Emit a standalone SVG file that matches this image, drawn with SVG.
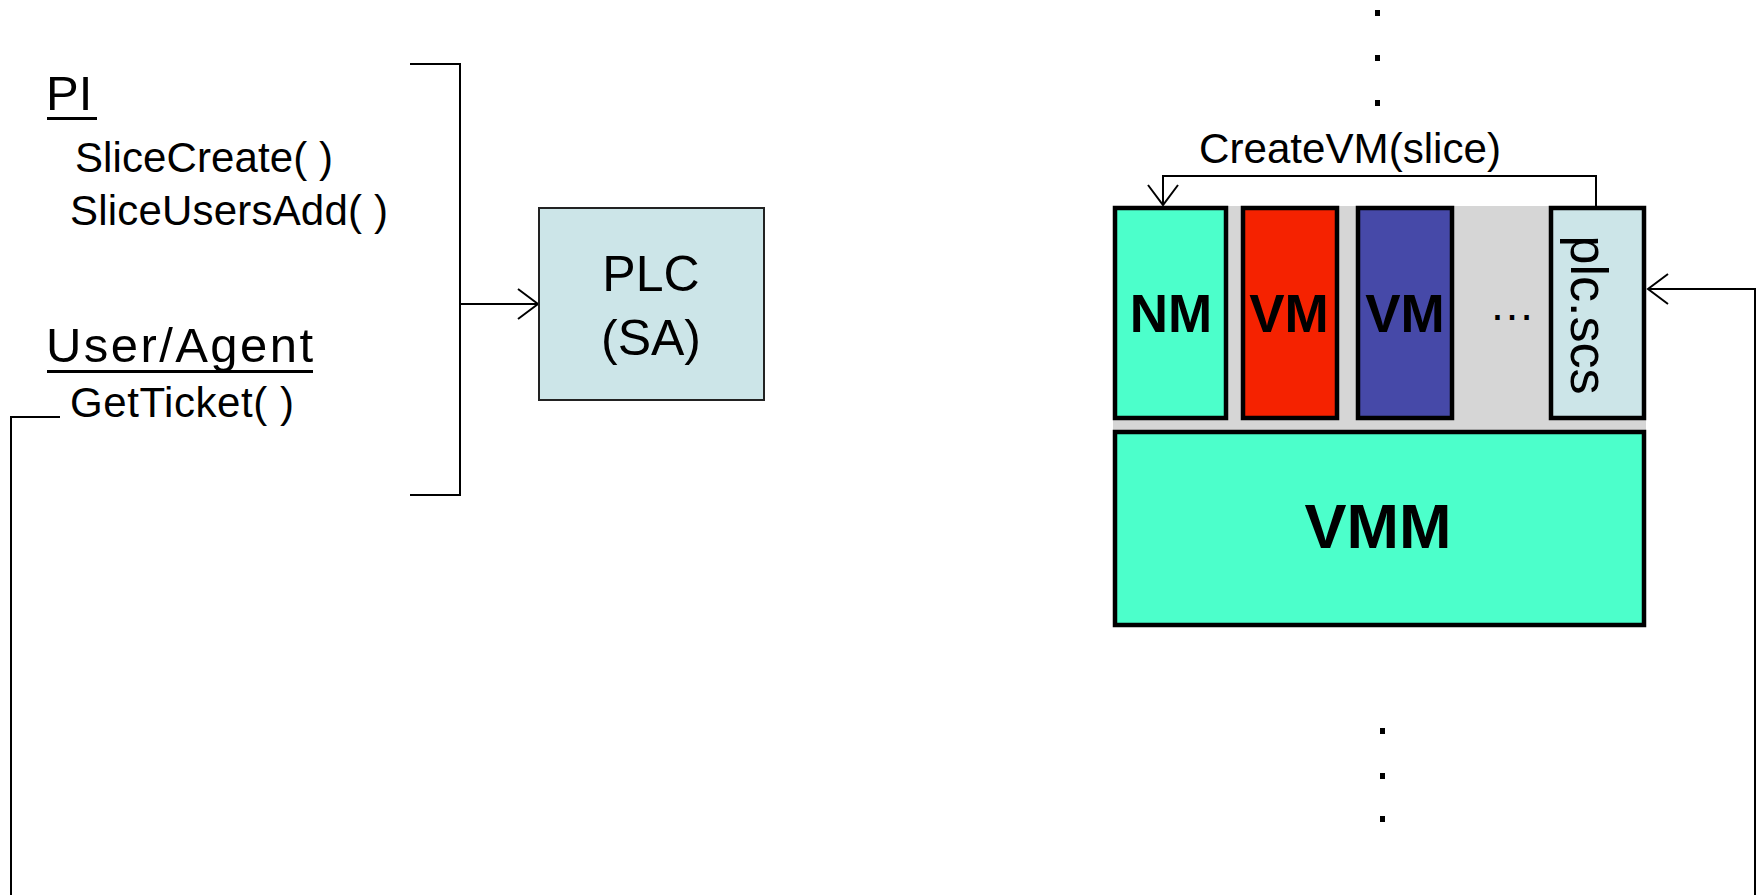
<svg xmlns="http://www.w3.org/2000/svg" width="1758" height="895" viewBox="0 0 1758 895">
<style>
text{font-family:"Liberation Sans",Arial,sans-serif;fill:#000}
.sm{font-size:42px}
.hd{font-size:49px}
.bx{font-size:50px;text-anchor:middle}
.bold{font-weight:bold;text-anchor:middle}
.ln{fill:none;stroke:#000;stroke-width:2}
.thick{stroke:#000;stroke-width:4.5}
</style>
<defs>
<marker id="arr" markerUnits="userSpaceOnUse" markerWidth="24" markerHeight="34" viewBox="-2 -2 24 34" refX="20" refY="15" orient="auto">
<path d="M0,0 L20,15 L0,30" fill="none" stroke="#000" stroke-width="2"/>
</marker>
</defs>
<rect width="1758" height="895" fill="#fff"/>

<g id="connectors">
<path class="ln" d="M410,64 H460 V495 H410"/>
<path class="ln" d="M460,304 H538" marker-end="url(#arr)"/>
<path class="ln" d="M1596,206 V176 H1163 V205" marker-end="url(#arr)"/>
<path class="ln" d="M60,417 H11 V905 H1755 V289 H1648" marker-end="url(#arr)"/>
</g>

<g id="pi">
<text class="hd" x="46" y="110">PI</text>
<rect x="47" y="117" width="50" height="3"/>
<text class="sm" x="75" y="172" textLength="258">SliceCreate( )</text>
<text class="sm" x="70" y="225" textLength="318">SliceUsersAdd( )</text>
</g>

<g id="user-agent">
<text class="hd" x="46" y="362" textLength="267">User/Agent</text>
<rect x="47" y="370" width="266" height="3"/>
<text class="sm" x="70" y="417" textLength="224">GetTicket( )</text>
</g>

<g id="plc">
<rect x="539" y="208" width="225" height="192" fill="#CCE5E8" stroke="#222" stroke-width="2"/>
<text class="bx" x="651" y="291">PLC</text>
<text class="bx" x="651" y="355">(SA)</text>
</g>

<g id="node-bg">
<rect x="1113" y="206" width="533" height="224" fill="#D6D6D6"/>
</g>

<g id="createvm-label">
<text x="1199" y="163" font-size="42" textLength="302" lengthAdjust="spacingAndGlyphs">CreateVM(slice)</text>
</g>

<g id="nm">
<rect class="thick" x="1115" y="208" width="111" height="210" fill="#4CFFCB"/>
<text class="bold" x="1171" y="332" font-size="53">NM</text>
</g>

<g id="vm1">
<rect class="thick" x="1243" y="208" width="94" height="210" fill="#F52200"/>
<text class="bold" x="1289" y="332" font-size="53">VM</text>
</g>

<g id="vm2">
<rect class="thick" x="1358" y="208" width="94" height="210" fill="#4649A8"/>
<text class="bold" x="1405" y="332" font-size="53">VM</text>
</g>

<g id="ellipsis">
<text x="1489" y="320" font-size="46">…</text>
</g>

<g id="plc-scs">
<rect class="thick" x="1551" y="208" width="93" height="210" fill="#CCE5E8"/>
<text x="0" y="0" font-size="52" text-anchor="middle" transform="translate(1571,315) rotate(90)">plc.scs</text>
</g>

<g id="vmm">
<rect class="thick" x="1115" y="432" width="529" height="193" fill="#4CFFCB"/>
<text class="bold" x="1378" y="548" font-size="63">VMM</text>
</g>

<g id="dots">
<rect x="1375" y="10" width="5" height="6"/>
<rect x="1375" y="55" width="5" height="6"/>
<rect x="1375" y="100" width="5" height="6"/>
<rect x="1380" y="728" width="5" height="6"/>
<rect x="1380" y="773" width="5" height="6"/>
<rect x="1380" y="816" width="5" height="6"/>
</g>
</svg>
